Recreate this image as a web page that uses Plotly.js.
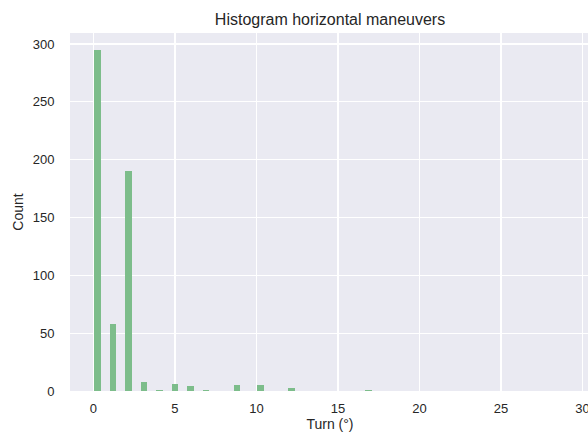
<!DOCTYPE html>
<html>
<head>
<meta charset="utf-8">
<script src="https://cdn.plot.ly/plotly-3.0.1.min.js"></script>
<style>
  html, body { margin: 0; padding: 0; overflow: hidden; background: #ffffff; }
  #chart { width: 600px; height: 437px; }
</style>
</head>
<body>
<div id="chart"></div>
<script>
// Histogram bins (bin centre in degrees) and their counts
const binCenters = [0.25, 1.20, 2.15, 3.10, 4.05, 5.00, 5.95, 6.90, 8.80, 10.23, 12.13, 16.89];
const counts     = [295,  58,   190,  8,    1,    6,    4,    1,    5,    5,     3,     1];

const xTicks = [0, 5, 10, 15, 20, 25, 30];
const yTicks = [0, 50, 100, 150, 200, 250, 300];

const textColor = '#262626';
const fontFamily = '"Liberation Sans", Arial, sans-serif';

const trace = {
  type: 'bar',
  x: binCenters,
  y: counts,
  width: 0.42,
  marker: { color: 'rgb(125,189,139)', line: { width: 0 } },
  hoverinfo: 'x+y'
};

const layout = {
  width: 600,
  height: 437,
  margin: { l: 70, r: 10, t: 33, b: 46 },
  paper_bgcolor: '#ffffff',
  plot_bgcolor: '#EAEAF2',
  showlegend: false,
  font: { family: fontFamily, color: textColor, size: 13 },
  title: {
    text: 'Histogram horizontal maneuvers',
    font: { family: fontFamily, size: 16, color: textColor },
    x: 0.5, xref: 'paper', xanchor: 'center',
    y: 1, yref: 'paper', yanchor: 'bottom',
    pad: { b: 8 }
  },
  xaxis: {
    range: [-1.44, 30.46],
    tickvals: xTicks,
    ticktext: xTicks.map(String),
    showgrid: true, gridcolor: '#ffffff', gridwidth: 1.2,
    zeroline: false, showline: false,
    ticks: 'outside', ticklen: 5, tickcolor: 'rgba(0,0,0,0)',
    tickfont: { size: 13, color: textColor },
    title: { text: 'Turn (°)', font: { size: 14, color: textColor }, standoff: 2 }
  },
  yaxis: {
    range: [0, 309.5],
    tickvals: yTicks,
    ticktext: yTicks.map(String),
    showgrid: true, gridcolor: '#ffffff', gridwidth: 1.2,
    zeroline: false, showline: false,
    ticks: 'outside', ticklen: 12, tickcolor: 'rgba(0,0,0,0)',
    tickfont: { size: 13, color: textColor },
    title: { text: 'Count', font: { size: 14, color: textColor }, standoff: 5 }
  },
  bargap: 0
};

Plotly.newPlot('chart', [trace], layout, { displayModeBar: false, staticPlot: true });
</script>
</body>
</html>
